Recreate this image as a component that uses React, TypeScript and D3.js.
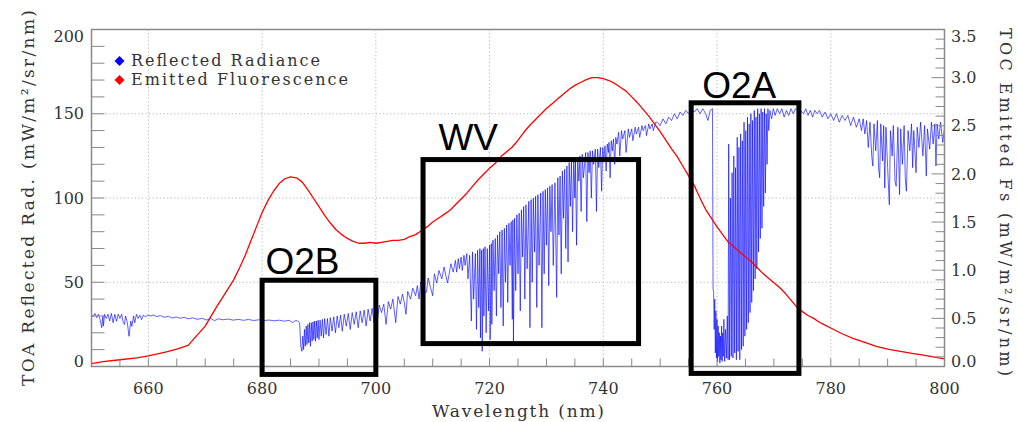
import React from "react";
import * as d3 from "d3";

type P = [number, number];

// ---------- axis ticks ----------
const xMajorTicks = [660, 680, 700, 720, 740, 760, 780, 800];
const xGridTicks = [660, 680, 700, 720, 740, 760, 780];
const leftTickLabels = [0, 50, 100, 150, 200];
const leftGridTicks = [50, 100, 150];
const rightTickLabels = ["0.0", "0.5", "1.0", "1.5", "2.0", "2.5", "3.0", "3.5"];

// ---------- Reflected radiance (left axis, mW/m2/sr/nm) ----------
const blueBase: P[] = [
  [650.0, 31], [650.3, 29.5], [650.6, 31.5], [650.9, 29], [651.2, 31], [651.5, 28], [651.8, 23], [652.0, 30],
  [652.1, 24], [652.3, 31], [652.6, 28.5], [652.9, 31], [653.2, 27], [653.5, 31.5], [653.8, 26], [654.1, 31],
  [654.4, 26.8], [654.7, 31], [655.0, 28.5], [655.3, 31], [655.6, 26], [655.8, 24.9], [656.0, 30], [656.3, 26],
  [656.6, 17.9], [656.9, 27], [657.1, 23.8], [657.4, 30], [657.6, 25.9], [657.9, 31], [658.2, 28.5], [658.5, 30.5],
  [658.8, 27.8], [659.1, 30.5], [659.5, 29.5], [659.9, 30.5], [660.4, 30], [660.9, 30.6], [661.5, 29.6], [662.1, 30.2],
  [662.8, 29.2], [663.5, 29.8], [664.2, 28.8], [664.9, 29.4], [665.6, 28.6], [666.3, 29.2], [667.0, 28.3], [667.8, 28.9],
  [668.6, 28], [669.4, 28.6], [670.2, 27.6], [671.0, 28.5], [671.6, 27.2], [672.3, 28.3], [673.1, 27.7], [674.0, 28.2],
  [674.9, 27.5], [675.8, 28], [676.7, 27.4], [677.6, 27.9], [678.5, 27.3], [679.4, 27.7], [680.3, 27.2], [681.2, 27.6],
  [682.1, 27.1], [683.0, 27.5], [683.9, 26.9], [684.8, 27.4], [685.4, 26], [685.8, 27.2], [686.3, 27],
];

const blueO2B: P[] = [
  [686.6, 26], [686.8, 12], [687.0, 9], [687.15, 18], [687.3, 10], [687.45, 22], [687.6, 12], [687.75, 24],
  [687.9, 13], [688.05, 25], [688.2, 14], [688.35, 26], [688.5, 12], [688.65, 26], [688.8, 15], [688.95, 26.5],
  [689.1, 16], [689.25, 27], [689.4, 15], [689.55, 27], [689.7, 17], [689.85, 27.5], [690.0, 16], [690.2, 27.5],
  [690.4, 18], [690.6, 28], [690.8, 17], [691.0, 28.5], [691.25, 19], [691.5, 28.5], [691.75, 18], [692.0, 29],
  [692.3, 21], [692.6, 29.5], [692.9, 20], [693.2, 30], [693.5, 23], [693.8, 30.5], [694.1, 21], [694.45, 31],
  [694.8, 24], [695.15, 31.5], [695.5, 22], [695.85, 32], [696.2, 25], [696.55, 32.5], [696.9, 23], [697.25, 33],
  [697.6, 26], [697.95, 33.5], [698.3, 24], [698.65, 34], [699.0, 27], [699.35, 34.5], [699.7, 26], [700.0, 35.5],
];

const bluePreWV: P[] = [
  [700.3, 28], [700.6, 36.5], [701.0, 32], [701.4, 37], [701.8, 25], [702.2, 38.5], [702.6, 34], [703.0, 40],
  [703.5, 26], [703.9, 41.5], [704.3, 37], [704.7, 43], [705.0, 38], [705.3, 31], [705.6, 44.5], [706.1, 40],
  [706.5, 46.5], [707.0, 42], [707.3, 48], [707.6, 40], [707.9, 50], [708.4, 45], [708.9, 44], [709.2, 52.5],
  [709.6, 47], [710.0, 42], [710.3, 55], [710.7, 49.5], [711.1, 57], [711.6, 52], [712.0, 59], [712.6, 49.5],
  [712.9, 55], [713.2, 61], [713.6, 56],
];

const blueWV: P[] = [
  [714.0, 63], [714.2, 56], [714.5, 64], [714.7, 58], [715.0, 65], [715.2, 57], [715.5, 66], [715.7, 60],
  [716.0, 67], [716.2, 52], [716.5, 66], [716.8, 27], [717.0, 68], [717.2, 40], [717.5, 67], [717.7, 22],
  [717.9, 69], [718.1, 35], [718.3, 70], [718.4, 17], [718.6, 69], [718.7, 9], [718.9, 70], [719.0, 30],
  [719.2, 71], [719.4, 20], [719.6, 70], [719.8, 33], [720.0, 72], [720.1, 16], [720.3, 73], [720.4, 25],
  [720.6, 75], [720.8, 45], [721.0, 76], [721.2, 30], [721.4, 78], [721.6, 55], [721.8, 80], [722.0, 35],
  [722.2, 81], [722.4, 24], [722.6, 82], [722.8, 50], [723.0, 84], [723.2, 38], [723.4, 85], [723.6, 60],
  [723.8, 86], [724.0, 28], [724.1, 87], [724.2, 15], [724.4, 88], [724.6, 45], [724.8, 90], [725.0, 55],
  [725.2, 91], [725.4, 33], [725.6, 93], [725.8, 65], [726.0, 95], [726.2, 40], [726.4, 96], [726.6, 58],
  [726.9, 98], [727.1, 23], [727.3, 99], [727.5, 50], [727.7, 100], [727.9, 68], [728.1, 101], [728.3, 35],
  [728.5, 102], [728.7, 60], [729.0, 103], [729.2, 23], [729.4, 104], [729.6, 55], [729.8, 105], [730.0, 72],
  [730.2, 106], [730.4, 48], [730.6, 107], [730.8, 80], [731.0, 108], [731.2, 60], [731.5, 109], [731.8, 41],
  [732.0, 112], [732.2, 78], [732.4, 113], [732.6, 55], [732.8, 116], [733.0, 88], [733.2, 117], [733.4, 70],
  [733.6, 119], [733.8, 62], [734.0, 121], [734.2, 95], [734.4, 122], [734.6, 80], [734.8, 123], [735.0, 100],
  [735.1, 123], [735.3, 72], [735.5, 124], [735.7, 110], [735.9, 125], [736.1, 92], [736.3, 126], [736.5, 112],
  [736.9, 127], [737.1, 86], [737.3, 127], [737.5, 115], [737.7, 128], [737.9, 100], [738.1, 128], [738.3, 120],
  [738.6, 129], [738.8, 92], [739.0, 129], [739.2, 118], [739.5, 130], [739.7, 104], [739.9, 130], [740.1, 122],
  [740.3, 131], [740.5, 116], [740.7, 132], [740.9, 127], [741.0, 133], [741.2, 112], [741.4, 134], [741.6, 128],
  [741.8, 135], [742.0, 120], [742.2, 136], [742.4, 132], [742.7, 139], [742.9, 125], [743.2, 140], [743.4, 135],
  [743.8, 140], [744.0, 127], [744.4, 141], [744.6, 136], [745.0, 141], [745.2, 134], [745.6, 142], [745.8, 138],
  [746.2, 142], [746.4, 136], [746.8, 143], [747.0, 140], [747.4, 143], [747.6, 137], [748.0, 144], [748.2, 141],
  [748.6, 144], [748.8, 140], [749.2, 145],
];

const blueMid: P[] = [
  [749.5, 145], [750.0, 143], [750.5, 147], [751.0, 144], [751.5, 148], [752.0, 146], [752.5, 150], [753.0, 147],
  [753.5, 151], [754.0, 149], [754.5, 152], [755.0, 150], [755.5, 153], [756.0, 151], [756.5, 153], [757.0, 150],
  [757.5, 153], [758.0, 150], [758.4, 146], [758.8, 152], [759.2, 153],
];

const blueO2A: P[] = [
  [759.3, 46], [759.4, 44], [759.5, 22], [759.6, 40], [759.7, 8], [759.8, 33], [759.9, 5], [760.0, 28],
  [760.1, 3], [760.2, 24], [760.3, 6], [760.4, 20], [760.5, 2], [760.6, 18], [760.7, 4], [760.8, 24],
  [760.9, 3], [761.0, 20], [761.1, 6], [761.2, 28], [761.35, 3], [761.5, 22], [761.65, 5], [761.8, 30],
  [761.95, 4], [762.05, 132], [762.2, 4], [762.35, 100], [762.5, 6], [762.65, 115], [762.8, 5], [762.95, 125],
  [763.1, 8], [763.25, 118], [763.4, 4], [763.55, 136], [763.7, 9], [763.85, 130], [764.0, 4], [764.15, 138],
  [764.3, 10], [764.45, 134], [764.6, 12], [764.75, 145], [764.9, 18], [765.05, 140], [765.2, 22], [765.35, 148],
  [765.5, 26], [765.65, 144], [765.8, 32], [765.95, 150], [766.1, 38], [766.25, 146], [766.4, 45], [766.55, 152],
  [766.7, 52], [766.85, 148], [767.0, 58], [767.15, 153], [767.3, 68], [767.45, 150], [767.6, 76], [767.75, 153],
  [767.9, 82], [768.05, 151], [768.2, 95], [768.35, 153], [768.5, 103], [768.65, 150], [768.8, 120], [768.95, 153],
  [769.1, 140], [769.3, 152], [769.6, 147], [769.9, 153], [770.2, 149], [770.6, 153], [771.0, 150], [771.4, 153],
  [771.8, 148], [772.2, 152], [772.6, 149], [773.0, 153], [773.4, 150], [773.8, 153], [774.2, 152], [774.5, 137],
  [774.7, 152],
];

const blueTail: P[] = [
  [775.2, 150], [775.6, 153], [776.0, 149], [776.4, 152], [776.8, 148], [777.2, 152], [777.6, 150], [778.0, 152],
  [778.5, 148], [779.0, 151], [779.5, 147], [780.0, 150], [780.5, 146], [781.0, 150], [781.5, 145], [782.0, 149],
  [782.5, 146], [783.0, 149], [783.5, 143], [784.0, 148], [784.5, 142], [785.0, 147], [785.4, 140], [785.7, 147],
  [786.0, 138], [786.3, 146], [786.6, 130], [786.9, 145], [787.2, 125], [787.4, 119], [787.6, 144], [787.9, 128],
  [788.2, 146], [788.4, 118], [788.6, 112], [788.8, 144], [789.1, 122], [789.3, 143], [789.5, 106], [789.7, 142],
  [790.0, 118], [790.3, 96], [790.5, 140], [790.8, 125], [791.0, 143], [791.3, 110], [791.5, 107], [791.8, 142],
  [792.1, 102], [792.3, 141], [792.6, 120], [792.9, 143], [793.1, 112], [793.3, 104], [793.6, 140], [793.9, 128],
  [794.2, 144], [794.4, 118], [794.6, 140], [795.0, 115], [795.2, 142], [795.5, 130], [795.8, 145], [796.2, 125],
  [796.5, 143], [796.8, 113], [797.0, 141], [797.4, 129], [797.7, 145], [798.0, 132], [798.3, 144], [798.5, 119],
  [798.7, 144], [799.0, 135], [799.3, 145], [799.7, 133], [800.0, 142],
];

// ---------- Emitted fluorescence (right axis, mW/m2/sr/nm) ----------
const redFs: P[] = [
  [650, 0.03], [652, 0.05], [655, 0.07], [658, 0.09], [660, 0.11], [663, 0.15], [665, 0.18], [667, 0.22],
  [668.5, 0.32], [670, 0.42], [671, 0.52], [672, 0.62], [673.5, 0.76], [675, 0.9], [676, 1.02], [677, 1.15],
  [678, 1.3], [679, 1.45], [680, 1.6], [681, 1.72], [682, 1.82], [683, 1.9], [684, 1.95], [685, 1.97],
  [686, 1.96], [687, 1.92], [688, 1.84], [689, 1.75], [690, 1.66], [691, 1.57], [692, 1.49], [693, 1.42],
  [694, 1.37], [695, 1.33], [696, 1.3], [697, 1.28], [698, 1.28], [699, 1.29], [700, 1.28], [701, 1.29],
  [702, 1.3], [703, 1.31], [704, 1.31], [705, 1.32], [706, 1.35], [707, 1.37], [708, 1.41], [709, 1.45],
  [710, 1.5], [711, 1.54], [712, 1.58], [713, 1.62], [714, 1.68], [715, 1.74], [716, 1.8], [717, 1.87],
  [718, 1.94], [719, 2.0], [720, 2.06], [721, 2.11], [722, 2.18], [723, 2.23], [724, 2.28], [725, 2.35],
  [726, 2.43], [727, 2.5], [728, 2.56], [729, 2.62], [730, 2.68], [731, 2.73], [732, 2.78], [733, 2.83],
  [734, 2.88], [735, 2.92], [736, 2.95], [737, 2.98], [738, 3.0], [739, 3.0], [740, 2.99], [741, 2.97],
  [742, 2.94], [743, 2.9], [744, 2.86], [745, 2.8], [746, 2.74], [747, 2.67], [748, 2.6], [749, 2.52],
  [750, 2.44], [751, 2.35], [752, 2.26], [753, 2.18], [754, 2.08], [755, 1.98], [756, 1.88], [757, 1.75],
  [758, 1.63], [759, 1.54], [760, 1.45], [761, 1.37], [762, 1.29], [763, 1.24], [764, 1.19], [765, 1.14],
  [766, 1.09], [767, 1.03], [768, 0.97], [769, 0.92], [770, 0.87], [771, 0.82], [772, 0.76], [773, 0.69],
  [774, 0.62], [775, 0.57], [776, 0.53], [777, 0.5], [778, 0.46], [779, 0.43], [780, 0.4], [782, 0.34],
  [784, 0.29], [786, 0.25], [788, 0.21], [790, 0.18], [792, 0.16], [794, 0.14], [796, 0.12], [798, 0.1],
  [800, 0.08],
];

// ---------- annotation boxes (data coordinates: nm, left-axis units) ----------
const boxNames = ["O2B", "WV", "O2A"];
const boxWl: P[] = [[680, 700], [708.3, 746.2], [755.45, 774.4]];
const boxRad: P[] = [[-4.7, 51.2], [13.6, 122.8], [-4.1, 156.5]];
const boxLabelAt: P[] = [[680.6, 55], [711, 128.4], [757.4, 159.2]];

const legendNames = ["Reflected Radiance", "Emitted Fluorescence"];
const legendColors = ["#0000ff", "#ff0000"];

export default function App() {
  const L = 91.5, R = 944.5, T = 29.5, B = 366.5;
  const x = d3.scaleLinear().domain([650, 800]).range([L, R]);
  const yL = d3.scaleLinear().domain([0, 200]).range([B, T]);
  const yR = d3.scaleLinear().domain([0, 3.5]).range([B, T]);

  const blue = [...blueBase, ...blueO2B, ...bluePreWV, ...blueWV, ...blueMid, ...blueO2A, ...blueTail];
  const blueLine = d3.line<P>().x((d) => x(d[0])).y((d) => yL(d[1]));
  const redLine = d3.line<P>().x((d) => x(d[0])).y((d) => yR(d[1]));

  const serif = "'DejaVu Serif', serif";
  const sans = "'Liberation Sans', Arial, sans-serif";
  const tickCol = "#888";
  const textCol = "#333";

  const xMinor = d3.range(650, 800.01, 5);
  const leftMinor = d3.range(0, 200.01, 10);
  const rightMinor = d3.range(0, 3.501, 0.1);
  const clampY = (v: number) => Math.max(36, Math.min(361.5, v));

  const diamond = (cx: number, cy: number, r: number) =>
    `M${cx},${cy - r}L${cx + r},${cy}L${cx},${cy + r}L${cx - r},${cy}Z`;

  return (
    <div style={{ position: "absolute", left: 0, top: 0 }}>
      <svg width={1017} height={422} style={{ display: "block", background: "#fff" }}>
        <defs>
          <clipPath id="plotClip">
            <rect x={L} y={T} width={R - L} height={B - T} />
          </clipPath>
        </defs>

        {/* grid */}
        <g stroke="#b5b5b5" strokeWidth={1} strokeDasharray="1.2,2.4">
          {xGridTicks.map((t) => (
            <line key={"gx" + t} x1={x(t)} x2={x(t)} y1={T} y2={B} />
          ))}
          {leftGridTicks.map((t) => (
            <line key={"gy" + t} x1={L} x2={R} y1={yL(t)} y2={yL(t)} />
          ))}
        </g>

        {/* data */}
        <g clipPath="url(#plotClip)">
          <path d={blueLine(blue) || ""} fill="none" stroke="#0000ff" strokeWidth={0.7} strokeOpacity={0.9} />
          <path d={redLine(redFs) || ""} fill="none" stroke="#ff0000" strokeWidth={1.3} strokeLinejoin="round" />
        </g>

        {/* ticks */}
        <g stroke={tickCol} strokeWidth={1}>
          {xMinor.map((t) => (
            <line key={"tx" + t} x1={x(t)} x2={x(t)} y1={B} y2={B - 8} />
          ))}
          {leftMinor.map((t) => (
            <line key={"tl" + t} x1={L} x2={L + 13} y1={yL(t)} y2={yL(t)} />
          ))}
          {rightMinor.map((t, i) => (
            <line key={"tr" + i} x1={R} x2={R - (i % 5 === 0 ? 13 : 9)} y1={yR(t)} y2={yR(t)} />
          ))}
        </g>

        {/* frame */}
        <rect x={L} y={T} width={R - L} height={B - T} fill="none" stroke="#8a8a8a" strokeWidth={1.5} />

        {/* tick labels */}
        <g fontFamily={serif} fontSize={16} fill={textCol}>
          {xMajorTicks.map((t) => (
            <text key={"lx" + t} x={x(t)} y={388} textAnchor="middle" dy="0.35em">
              {t}
            </text>
          ))}
          {leftTickLabels.map((t) => (
            <text key={"ll" + t} x={84} y={clampY(yL(t))} textAnchor="end" dy="0.35em">
              {t}
            </text>
          ))}
          {rightTickLabels.map((t) => (
            <text key={"lr" + t} x={951} y={clampY(yR(+t))} textAnchor="start" dy="0.35em">
              {t}
            </text>
          ))}
        </g>

        {/* axis titles */}
        <g fontFamily={serif} fill={textCol}>
          <text x={518} y={411} textAnchor="middle" dy="0.35em" fontSize={17} textLength={172} lengthAdjust="spacing">
            Wavelength (nm)
          </text>
          <text
            transform={`translate(28,198) rotate(-90)`}
            textAnchor="middle"
            dy="0.35em"
            fontSize={17}
            textLength={376}
            lengthAdjust="spacing"
          >
            TOA Reflected Rad. (mW/m²/sr/nm)
          </text>
          <text
            transform={`translate(1006,202) rotate(90)`}
            textAnchor="middle"
            dy="0.35em"
            fontSize={16}
            textLength={348}
            lengthAdjust="spacing"
          >
            TOC Emitted Fs (mW/m²/sr/nm)
          </text>
        </g>

        {/* legend */}
        <g fontFamily={serif} fontSize={16} fill={textCol}>
          {legendNames.map((n, i) => (
            <g key={n}>
              <path d={diamond(119.5, 61 + i * 19, 5)} fill={legendColors[i]} />
              <text x={131} y={66 + i * 19} textLength={i === 0 ? 189 : 217} lengthAdjust="spacing">
                {n}
              </text>
            </g>
          ))}
        </g>

        {/* annotation boxes */}
        <g>
          {boxNames.map((n, i) => {
            const x0 = x(boxWl[i][0]);
            const x1 = x(boxWl[i][1]);
            const y0 = yL(boxRad[i][1]);
            const y1 = yL(boxRad[i][0]);
            return (
              <g key={n}>
                <rect x={x0} y={y0} width={x1 - x0} height={y1 - y0} fill="none" stroke="#000" strokeWidth={5} />
                <text
                  x={x(boxLabelAt[i][0])}
                  y={yL(boxLabelAt[i][1])}
                  fontFamily={sans}
                  fontSize={37}
                  fill="#000"
                >
                  {n}
                </text>
              </g>
            );
          })}
        </g>
      </svg>
    </div>
  );
}
